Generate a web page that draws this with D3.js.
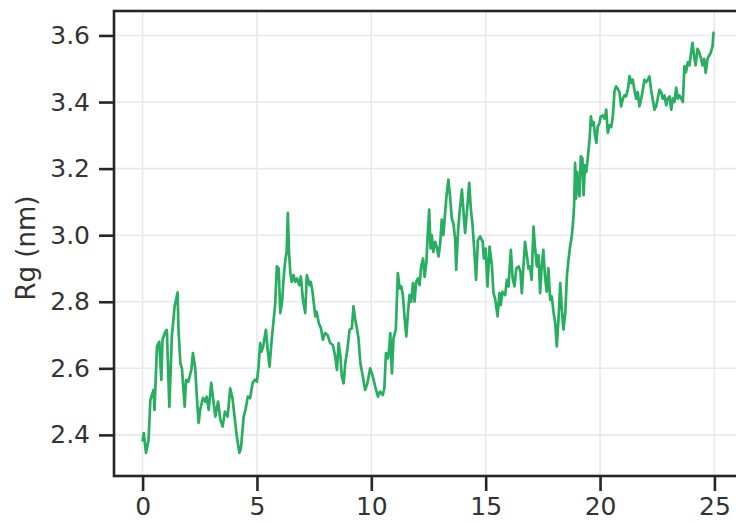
<!DOCTYPE html>
<html>
<head>
<meta charset="utf-8">
<script src="https://cdn.jsdelivr.net/npm/d3@7"></script>
<style>
  html, body { margin: 0; padding: 0; background: #ffffff; }
  svg { display: block; }
  text { font-family: "DejaVu Sans", sans-serif; fill: #333333; }
</style>
</head>
<body>
<svg id="chart" width="736" height="523"></svg>
<script>
// Radius of gyration over simulation time
const timeNs = [
  0.00, 0.05, 0.15, 0.26, 0.34, 0.48, 0.52, 0.63, 0.73, 0.82, 0.87, 0.99, 1.06, 1.17, 1.28, 1.40,
  1.53, 1.57, 1.65, 1.72, 1.84, 1.90, 2.00, 2.13, 2.20, 2.30, 2.38, 2.45, 2.52, 2.64, 2.74, 2.80,
  2.89, 3.00, 3.10, 3.18, 3.30, 3.40, 3.50, 3.60, 3.72, 3.83, 3.93, 4.02, 4.12, 4.23, 4.30, 4.42,
  4.50, 4.60, 4.70, 4.81, 4.90, 5.00, 5.07, 5.14, 5.20, 5.27, 5.39, 5.47, 5.55, 5.65, 5.73, 5.80,
  5.87, 5.95, 6.02, 6.10, 6.16, 6.24, 6.30, 6.35, 6.40, 6.46, 6.52, 6.60, 6.67, 6.75, 6.85, 6.92,
  7.01, 7.11, 7.18, 7.30, 7.35, 7.43, 7.55, 7.61, 7.70, 7.80, 7.88, 7.98, 8.09, 8.20, 8.32, 8.42,
  8.50, 8.57, 8.65, 8.71, 8.79, 8.86, 8.95, 9.05, 9.15, 9.22, 9.29, 9.37, 9.44, 9.52, 9.63, 9.73,
  9.83, 9.95, 10.05, 10.17, 10.29, 10.38, 10.50, 10.57, 10.64, 10.73, 10.79, 10.83, 10.90, 10.97, 11.07, 11.16,
  11.24, 11.31, 11.38, 11.45, 11.53, 11.60, 11.67, 11.74, 11.82, 11.89, 11.96, 12.04, 12.11, 12.18, 12.26, 12.33,
  12.41, 12.47, 12.53, 12.59, 12.64, 12.71, 12.79, 12.86, 12.94, 13.01, 13.08, 13.15, 13.23, 13.30, 13.37, 13.45,
  13.52, 13.59, 13.67, 13.71, 13.79, 13.86, 13.96, 14.03, 14.10, 14.18, 14.28, 14.35, 14.42, 14.51, 14.58, 14.66,
  14.76, 14.87, 14.92, 15.00, 15.08, 15.17, 15.27, 15.34, 15.41, 15.52, 15.60, 15.66, 15.73, 15.85, 15.93, 16.00,
  16.10, 16.18, 16.26, 16.34, 16.44, 16.52, 16.58, 16.65, 16.72, 16.80, 16.87, 16.94, 17.01, 17.09, 17.16, 17.24,
  17.31, 17.38, 17.45, 17.52, 17.60, 17.67, 17.74, 17.82, 17.89, 17.97, 18.04, 18.11, 18.19, 18.26, 18.33, 18.40,
  18.48, 18.55, 18.62, 18.69, 18.77, 18.84, 18.87, 18.91, 18.95, 19.00, 19.04, 19.10, 19.16, 19.23, 19.28, 19.34,
  19.40, 19.47, 19.54, 19.60, 19.66, 19.72, 19.78, 19.84, 19.90, 19.98, 20.03, 20.12, 20.20, 20.27, 20.34, 20.41,
  20.49, 20.56, 20.63, 20.70, 20.77, 20.85, 20.92, 21.00, 21.07, 21.14, 21.22, 21.29, 21.36, 21.43, 21.50, 21.58,
  21.65, 21.72, 21.80, 21.87, 21.94, 22.01, 22.09, 22.16, 22.23, 22.30, 22.38, 22.45, 22.52, 22.60, 22.67, 22.74,
  22.82, 22.89, 22.96, 23.04, 23.11, 23.18, 23.25, 23.33, 23.40, 23.47, 23.55, 23.62, 23.69, 23.76, 23.84, 23.91,
  23.98, 24.04, 24.11, 24.18, 24.26, 24.33, 24.40, 24.48, 24.55, 24.62, 24.70, 24.77, 24.84, 24.92, 24.96, 25.00
];

const rgNm = [
  2.380, 2.405, 2.346, 2.385, 2.505, 2.535, 2.475, 2.666, 2.680, 2.565, 2.686, 2.710, 2.715, 2.485, 2.696, 2.786,
  2.828, 2.716, 2.616, 2.600, 2.485, 2.565, 2.560, 2.595, 2.646, 2.600, 2.505, 2.436, 2.476, 2.511, 2.500, 2.515,
  2.475, 2.556, 2.500, 2.455, 2.500, 2.445, 2.425, 2.470, 2.455, 2.540, 2.510, 2.455, 2.395, 2.346, 2.360, 2.455,
  2.476, 2.515, 2.510, 2.556, 2.566, 2.560, 2.605, 2.676, 2.650, 2.665, 2.716, 2.655, 2.605, 2.690, 2.746, 2.796,
  2.906, 2.900, 2.766, 2.800, 2.866, 2.926, 2.950, 3.067, 2.950, 2.886, 2.860, 2.880, 2.860, 2.870, 2.850, 2.876,
  2.806, 2.766, 2.880, 2.850, 2.860, 2.830, 2.756, 2.770, 2.736, 2.720, 2.686, 2.706, 2.700, 2.676, 2.670, 2.636,
  2.595, 2.676, 2.636, 2.575, 2.555, 2.615, 2.655, 2.716, 2.720, 2.786, 2.750, 2.720, 2.690, 2.616, 2.575, 2.535,
  2.555, 2.600, 2.580, 2.545, 2.515, 2.530, 2.520, 2.540, 2.646, 2.630, 2.665, 2.706, 2.585, 2.690, 2.716, 2.886,
  2.840, 2.846, 2.820, 2.756, 2.696, 2.766, 2.820, 2.800, 2.856, 2.800, 2.860, 2.870, 2.850, 2.906, 2.930, 2.875,
  2.920, 3.007, 3.077, 2.960, 3.000, 2.950, 2.980, 2.965, 2.936, 2.975, 3.047, 3.000, 3.070, 3.127, 3.167, 3.110,
  3.050, 3.035, 2.985, 2.896, 3.010, 3.070, 3.137, 3.070, 3.007, 3.070, 3.157, 3.080, 3.035, 2.946, 2.866, 2.985,
  2.996, 2.980, 2.930, 2.960, 2.846, 2.966, 2.910, 2.826, 2.810, 2.756, 2.826, 2.790, 2.830, 2.820, 2.866, 2.846,
  2.956, 2.870, 2.846, 2.900, 2.906, 2.890, 2.826, 2.906, 2.980, 2.940, 2.900, 2.906, 2.866, 3.026, 2.960, 2.906,
  2.940, 2.826, 2.906, 2.956, 2.870, 2.830, 2.900, 2.806, 2.816, 2.766, 2.736, 2.666, 2.756, 2.856, 2.776, 2.716,
  2.766, 2.876, 2.926, 2.966, 3.000, 3.056, 3.097, 3.217, 3.110, 3.190, 3.146, 3.117, 3.237, 3.230, 3.120, 3.210,
  3.190, 3.237, 3.287, 3.357, 3.330, 3.340, 3.300, 3.277, 3.326, 3.337, 3.357, 3.360, 3.350, 3.377, 3.307, 3.330,
  3.325, 3.357, 3.432, 3.447, 3.440, 3.430, 3.387, 3.410, 3.420, 3.417, 3.440, 3.478, 3.457, 3.467, 3.437, 3.410,
  3.430, 3.387, 3.410, 3.437, 3.467, 3.460, 3.467, 3.477, 3.437, 3.410, 3.377, 3.387, 3.410, 3.437, 3.430, 3.410,
  3.420, 3.390, 3.410, 3.417, 3.377, 3.410, 3.400, 3.443, 3.410, 3.420, 3.410, 3.400, 3.508, 3.490, 3.520, 3.510,
  3.548, 3.578, 3.540, 3.510, 3.560, 3.550, 3.535, 3.510, 3.530, 3.488, 3.530, 3.540, 3.548, 3.568, 3.608, 3.610
];

const xTickValues = [0, 5, 10, 15, 20, 25];
const yTickValues = [2.4, 2.6, 2.8, 3.0, 3.2, 3.4, 3.6];
const yAxisLabel = "Rg (nm)";

const svg = d3.select("#chart");
const plot = { left: 114, right: 743, top: 11, bottom: 476 };

const x = d3.scaleLinear().domain([-1.25, 26.25]).range([plot.left, plot.right]);
const y = d3.scaleLinear().domain([2.2765, 3.6735]).range([plot.bottom, plot.top]);

// grid
const grid = svg.append("g");
grid.selectAll("line.gx").data(xTickValues).join("line")
  .attr("x1", d => x(d)).attr("x2", d => x(d))
  .attr("y1", plot.top).attr("y2", plot.bottom)
  .attr("stroke", "#e9e9e9").attr("stroke-width", 1.6);
grid.selectAll("line.gy").data(yTickValues).join("line")
  .attr("y1", d => y(d)).attr("y2", d => y(d))
  .attr("x1", plot.left).attr("x2", plot.right)
  .attr("stroke", "#e9e9e9").attr("stroke-width", 1.6);

// trace
const points = timeNs.map((t, i) => [t, rgNm[i]]);
const line = d3.line().x(d => x(d[0])).y(d => y(d[1]));
svg.append("path")
  .datum(points)
  .attr("d", line)
  .attr("fill", "none")
  .attr("stroke", "#27ae60")
  .attr("stroke-width", 2.7)
  .attr("stroke-linejoin", "round");

// axes
const xAxis = d3.axisBottom(x).tickValues(xTickValues).tickFormat(d3.format("d"))
  .tickSize(15).tickPadding(6);
const yAxis = d3.axisLeft(y).tickValues(yTickValues).tickFormat(d3.format(".1f"))
  .tickSize(15).tickPadding(9);

function styleAxis(g) {
  g.select(".domain").remove();
  g.selectAll(".tick line").attr("stroke", "#262626").attr("stroke-width", 2.6);
  g.selectAll(".tick text").attr("font-size", 25).attr("fill", "#333333")
    .attr("font-family", "DejaVu Sans, sans-serif");
}

svg.append("g").attr("transform", `translate(0,${plot.bottom})`).call(xAxis).call(styleAxis);
svg.append("g").attr("transform", `translate(${plot.left},0)`).call(yAxis).call(styleAxis);

// frame
svg.append("rect")
  .attr("x", plot.left).attr("y", plot.top)
  .attr("width", plot.right - plot.left).attr("height", plot.bottom - plot.top)
  .attr("fill", "none").attr("stroke", "#262626").attr("stroke-width", 2.6);

// axis title
svg.append("text")
  .attr("transform", `translate(35,248) rotate(-90)`)
  .attr("text-anchor", "middle")
  .attr("font-size", 26)
  .text(yAxisLabel);
</script>
</body>
</html>
